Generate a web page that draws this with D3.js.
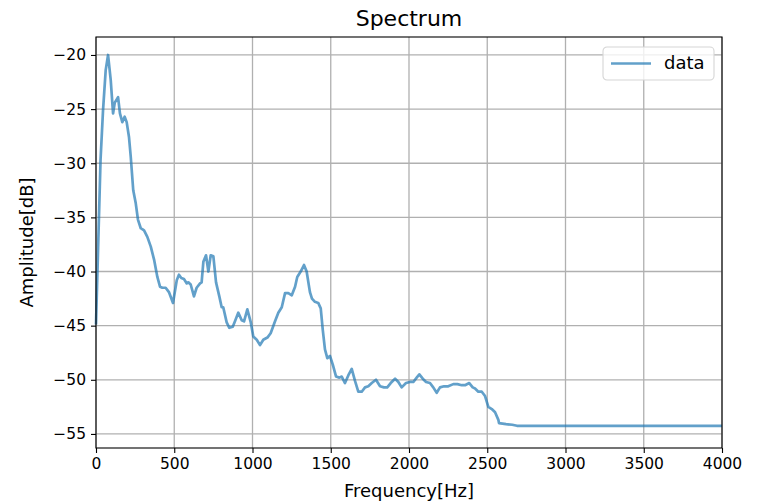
<!DOCTYPE html>
<html>
<head>
<meta charset="utf-8">
<script src="https://cdn.jsdelivr.net/npm/d3@7"></script>
<style>
  body { margin: 0; background: white; }
  text { font-family: "DejaVu Sans", sans-serif; }
</style>
</head>
<body>
<div id="chart"></div>
<script>
// spectrum
const freq = [0, 29, 45, 62, 77, 94, 109, 120, 141, 153, 168, 183, 196, 211, 222, 238, 254, 268, 286, 307,
  328, 350, 371, 392, 409, 424, 445, 466, 492, 516, 530, 545, 562, 580, 590, 605, 626, 643, 665, 675,
  686, 703, 718, 733, 750, 767, 788, 803, 813, 835, 852, 874, 888, 909, 931, 946, 967, 989, 1005, 1027,
  1048, 1069, 1095, 1116, 1144, 1165, 1187, 1208, 1229, 1251, 1272, 1286, 1308, 1329, 1346, 1367, 1380, 1399, 1420, 1436,
  1449, 1463, 1478, 1495, 1513, 1534, 1555, 1570, 1591, 1612, 1634, 1655, 1676, 1698, 1719, 1740, 1762, 1789, 1815, 1840,
  1861, 1883, 1911, 1932, 1953, 1981, 2006, 2028, 2049, 2066, 2088, 2109, 2134, 2155, 2177, 2198, 2224, 2251, 2283, 2309,
  2337, 2358, 2385, 2407, 2422, 2443, 2465, 2486, 2507, 2529, 2550, 2571, 2575, 2620, 2660, 2690, 3000, 4000]
const amp = [-44.9, -29.7, -25.1, -21.4, -20.0, -22.3, -25.4, -24.4, -23.9, -25.4, -26.2, -25.7, -26.2, -27.6, -29.4, -32.5, -33.7, -35.2, -36.0, -36.2,
  -36.8, -37.7, -38.9, -40.5, -41.4, -41.5, -41.5, -41.9, -42.9, -40.8, -40.3, -40.6, -40.7, -41.1, -41.0, -41.2, -42.3, -41.5, -41.1, -41.0,
  -39.1, -38.5, -40.0, -38.5, -38.6, -41.0, -42.3, -43.3, -43.3, -44.7, -45.2, -45.1, -44.6, -43.8, -44.5, -44.6, -43.5, -44.7, -46.0, -46.3,
  -46.8, -46.3, -46.1, -45.7, -44.6, -43.8, -43.3, -42.0, -42.0, -42.2, -41.4, -40.5, -40.0, -39.4, -40.0, -41.9, -42.5, -42.8, -42.9, -43.4,
  -45.4, -47.2, -48.0, -47.8, -48.6, -49.7, -49.8, -49.7, -50.3, -49.6, -49.0, -50.1, -51.1, -51.1, -50.7, -50.6, -50.3, -50.0, -50.6, -50.7,
  -50.7, -50.3, -49.9, -50.2, -50.7, -50.3, -50.2, -50.2, -49.8, -49.5, -49.9, -50.2, -50.3, -50.7, -51.2, -50.7, -50.6, -50.6, -50.4, -50.4,
  -50.5, -50.5, -50.3, -50.7, -50.8, -51.1, -51.1, -51.5, -52.5, -52.7, -53.0, -53.7, -54.0, -54.1, -54.15, -54.25, -54.25, -54.25]

const xTicks = [0, 500, 1000, 1500, 2000, 2500, 3000, 3500, 4000]
const yTicks = [-20, -25, -30, -35, -40, -45, -50, -55]

const W = 757, H = 502
const margin = { top: 37, right: 35, bottom: 54, left: 96 }

const svg = d3.select('#chart')
    .append('svg')
    .attr('width', W)
    .attr('height', H)

const x = d3.scaleLinear()
    .domain([0, 4000])
    .range([margin.left, W - margin.right])

const y = d3.scaleLinear()
    .domain([-56.3, -18.34])
    .range([H - margin.bottom, margin.top])

// grid
svg.append('g')
    .selectAll('line')
    .data(xTicks)
    .join('line')
    .attr('x1', d => x(d)).attr('x2', d => x(d))
    .attr('y1', margin.top).attr('y2', H - margin.bottom)
    .attr('stroke', '#b0b0b0')
    .attr('stroke-width', 1.3)

svg.append('g')
    .selectAll('line')
    .data(yTicks)
    .join('line')
    .attr('x1', margin.left).attr('x2', W - margin.right)
    .attr('y1', d => y(d)).attr('y2', d => y(d))
    .attr('stroke', '#b0b0b0')
    .attr('stroke-width', 1.3)

// line
const line = d3.line()
    .x((d, i) => x(freq[i]))
    .y(d => y(d))

svg.append('path')
    .datum(amp)
    .attr('d', line)
    .attr('fill', 'none')
    .attr('stroke', '#1f77b4')
    .attr('stroke-opacity', 0.7)
    .attr('stroke-width', 2.7)
    .attr('stroke-linejoin', 'round')

// axes
const fmt = d3.format('d')
const xAxis = svg.append('g')
    .attr('transform', `translate(0, ${H - margin.bottom})`)
    .call(d3.axisBottom(x).tickValues(xTicks).tickFormat(fmt).tickSize(5).tickPadding(5).tickSizeOuter(0))

const yAxis = svg.append('g')
    .attr('transform', `translate(${margin.left}, 0)`)
    .call(d3.axisLeft(y).tickValues(yTicks).tickFormat(d => '\u2212' + Math.abs(d)).tickSize(5).tickPadding(5).tickSizeOuter(0))

for (const ax of [xAxis, yAxis]) {
    ax.select('.domain').remove()
    ax.selectAll('.tick line').attr('stroke', '#000').attr('stroke-width', 1.1)
    ax.selectAll('.tick text').attr('font-size', 15.5).attr('fill', '#000')
        .style('font-family', '"DejaVu Sans", sans-serif')
}

// frame
svg.append('rect')
    .attr('x', margin.left)
    .attr('y', margin.top)
    .attr('width', W - margin.left - margin.right)
    .attr('height', H - margin.top - margin.bottom)
    .attr('fill', 'none')
    .attr('stroke', '#000')
    .attr('stroke-width', 1.1)

// labels
svg.append('text')
    .attr('x', (margin.left + W - margin.right) / 2)
    .attr('y', 26)
    .attr('text-anchor', 'middle')
    .attr('font-size', 22)
    .text('Spectrum')

svg.append('text')
    .attr('x', (margin.left + W - margin.right) / 2)
    .attr('y', 497)
    .attr('text-anchor', 'middle')
    .attr('font-size', 18)
    .text('Frequency[Hz]')

svg.append('text')
    .attr('transform', `translate(33, ${(margin.top + H - margin.bottom) / 2}) rotate(-90)`)
    .attr('text-anchor', 'middle')
    .attr('font-size', 18)
    .text('Amplitude[dB]')

// legend
const legend = svg.append('g')
    .attr('transform', `translate(603, 47)`)

legend.append('rect')
    .attr('width', 111)
    .attr('height', 33)
    .attr('rx', 4)
    .attr('fill', 'white')
    .attr('fill-opacity', 0.8)
    .attr('stroke', '#d5d5d5')
    .attr('stroke-width', 1.1)

legend.append('line')
    .attr('x1', 8).attr('x2', 48)
    .attr('y1', 16.5).attr('y2', 16.5)
    .attr('stroke', '#1f77b4')
    .attr('stroke-opacity', 0.7)
    .attr('stroke-width', 2.7)

legend.append('text')
    .attr('x', 61)
    .attr('y', 22)
    .attr('font-size', 18)
    .text('data')
</script>
</body>
</html>
